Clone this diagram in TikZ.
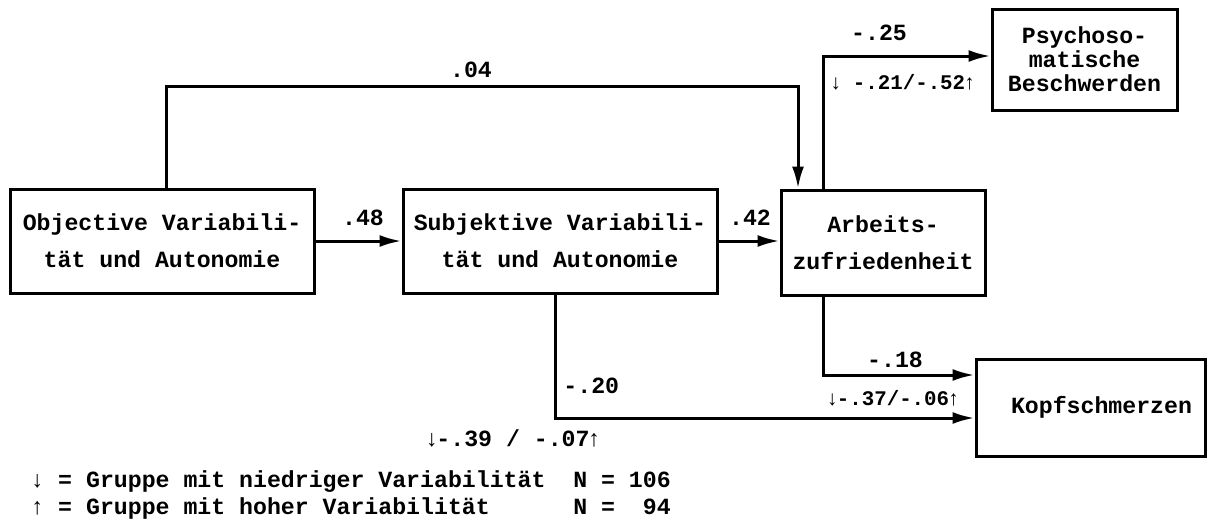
\documentclass[tikz,border=0pt]{standalone}
\usepackage{fontspec}
\setmonofont{Liberation Mono}
\usetikzlibrary{arrows.meta}
\newcommand\grpdn{\makebox[4.5pt]{↓}}
\newcommand\grpup{\makebox[4.5pt]{↑}}
\begin{document}
\begin{tikzpicture}[x=0.5pt,y=-0.5pt,
  every node/.style={font=\fontsize{11.6}{18.5}\selectfont\ttfamily\bfseries},
  box/.style={draw,line width=1.5pt,align=center,inner sep=0pt},
  arr/.style={line width=1.5pt,-{Latex[length=11pt,width=6pt]}},
  lab/.style={inner sep=0pt},
  small/.style={font=\fontsize{10.4}{12}\selectfont\ttfamily\bfseries}]
\useasboundingbox[fill=white] (0,0) rectangle (1208,520);
% boxes
\node[box,minimum width=152pt,minimum height=52pt] (obj) at (162,241)
  {Objective Variabili-\\tät und Autonomie};
\node[box,minimum width=157pt,minimum height=52pt] (subj) at (560,241)
  {Subjektive Variabili-\\tät und Autonomie};
\node[box,minimum width=102pt,minimum height=52.5pt] (arb) at (883,242.5)
  {Arbeits-\\zufriedenheit};
\node[box,minimum width=92.5pt,minimum height=50.5pt,
  font=\fontsize{11.6}{12}\selectfont\ttfamily\bfseries] (psy) at (1084.5,59.5)
  {Psychoso-\\matische\\Beschwerden};
\node[box,minimum width=114.5pt,minimum height=48.5pt] (kopf) at (1090.5,407.5)
  {\hspace*{11pt}Kopfschmerzen};
% corner coordinates
\coordinate (k1) at (166,86);
\coordinate (k2) at (798,86);
\coordinate (k3) at (823,56);
\coordinate (k4) at (823,375);
\coordinate (k5) at (555,418);
% connectors
\draw[arr] (obj) -- (subj);
\draw[arr] (subj.east) -- (subj.east -| arb.west);
\draw[arr] (obj.north -| k1) -- (k1) -- (k2) -- (arb.north -| k2);
\draw[arr] (arb.north -| k3) -- (k3) -- (psy.west |- k3);
\draw[arr] (arb.south -| k4) -- (k4) -- (kopf.west |- k4);
\draw[arr] (subj.south -| k5) -- (k5) -- (kopf.west |- k5);
% labels
\node[lab] (l04) at (471,70) {.04};
\node[lab] (l48) at (363,218) {.48};
\node[lab] (l42) at (750,218) {.42};
\node[lab] (l25) at (879,33) {-.25};
\node[lab,small,anchor=west] (l25g) at (831,82) {\grpdn\ -.21/-.52\grpup};
\node[lab] (l18) at (895,360) {-.18};
\node[lab,small] (l18g) at (893,398) {\grpdn-.37/-.06\grpup};
\node[lab,anchor=west] (l20) at (563,386) {-.20};
\node[lab] (l20g) at (513,438) {\grpdn-.39 / -.07\grpup};
% legend
\node[lab,anchor=west] (leg1) at (30,482) {↓ = Gruppe mit niedriger Variabilität~~N = 106};
\node[lab,anchor=west] (leg2) at (30,508) {↑ = Gruppe mit hoher Variabilität~~~~~~N =~~94};
\end{tikzpicture}
\end{document}
